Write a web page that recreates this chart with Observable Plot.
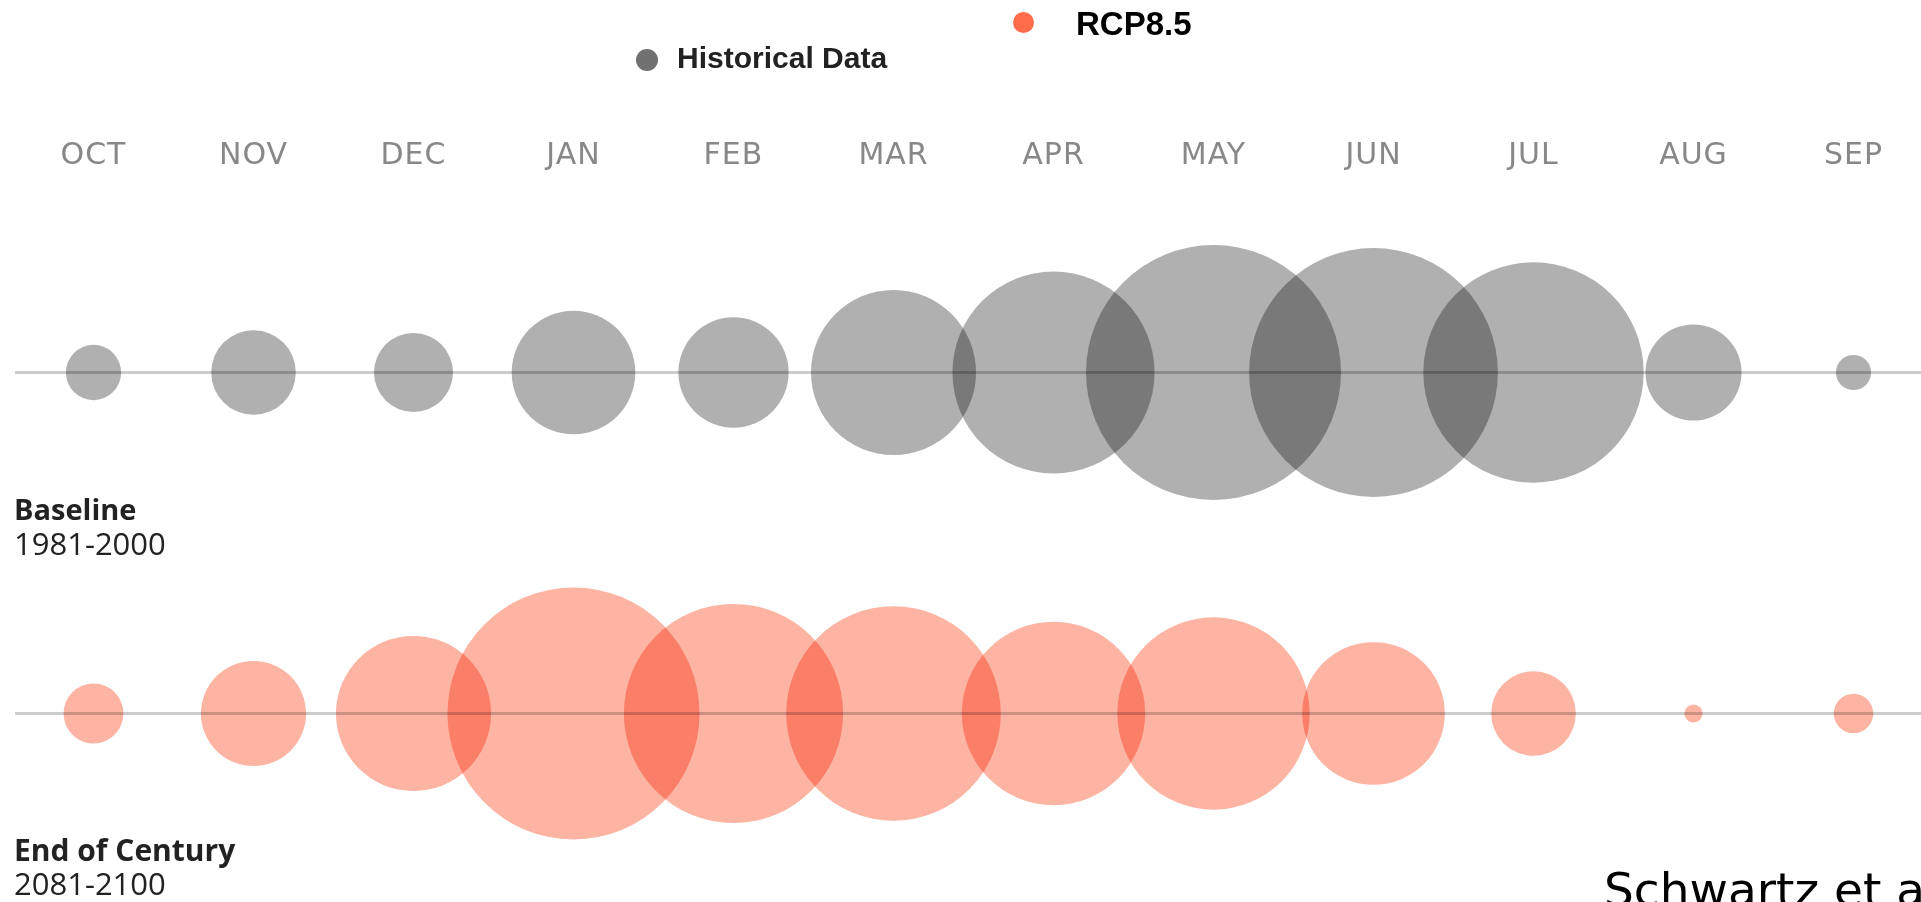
<!DOCTYPE html>
<html>
<head>
<meta charset="utf-8">
<script src="https://cdn.jsdelivr.net/npm/d3@7"></script>
<script src="https://cdn.jsdelivr.net/npm/@observablehq/plot@0.6"></script>
<style>
  html, body { margin: 0; padding: 0; background: #fff; overflow: hidden; }
  #wrap { position: relative; width: 1921px; height: 902px; overflow: hidden; }
  #chart { position: absolute; left: 0; top: 0; }
  #chart svg circle { mix-blend-mode: multiply; }
  #chart svg text { letter-spacing: 1px; }
  .abs { position: absolute; white-space: nowrap; line-height: 1; }
  .dot { position: absolute; border-radius: 50%; }
  .leg { font-family: "Liberation Sans", Arial, sans-serif; font-weight: bold; }
  .row { font-family: "Open Sans", sans-serif; color: #222; }
</style>
</head>
<body>
<div id="wrap">
  <div id="chart"></div>
  <div class="dot" style="left:636px; top:49px; width:22px; height:22px; background:#707070;"></div>
  <div class="abs leg" style="left:677px; top:43px; font-size:30px; color:#222;">Historical Data</div>
  <div class="dot" style="left:1012.5px; top:12px; width:21px; height:21px; background:#ff6c4c;"></div>
  <div class="abs leg" style="left:1076px; top:7px; font-size:33px; color:#000;">RCP8.5</div>
  <div class="abs row" style="left:14px; top:494px; font-size:29px; font-weight:bold;">Baseline</div>
  <div class="abs row" style="left:14px; top:528px; font-size:31px;">1981-2000</div>
  <div class="abs row" style="left:14px; top:834.5px; font-size:30px; font-weight:bold;">End of Century</div>
  <div class="abs row" style="left:14px; top:868px; font-size:31px;">2081-2100</div>
  <div class="abs" style="left:1604px; top:866px; font-size:47px; font-family:'DejaVu Sans', sans-serif; color:#000;">Schwartz et al.</div>
</div>
<script>
// Month categories (water year order)
const months = ["OCT", "NOV", "DEC", "JAN", "FEB", "MAR", "APR", "MAY", "JUN", "JUL", "AUG", "SEP"];
// Series names
const seriesNames = ["Historical Data", "RCP8.5"];
// Baseline 1981-2000 (relative magnitude, estimated from circle areas)
const historical = [4.7, 11.0, 9.6, 23.5, 18.7, 41.9, 62.8, 100.0, 95.2, 74.7, 14.2, 1.9];
// End of century 2081-2100, RCP8.5 (relative magnitude)
const rcp85 = [5.5, 17.0, 37.0, 97.7, 73.9, 70.8, 51.7, 56.9, 31.3, 11.0, 0.5, 2.4];

const data = [
  ...months.map((m, i) => ({month: m, series: seriesNames[0], value: historical[i]})),
  ...months.map((m, i) => ({month: m, series: seriesNames[1], value: rcp85[i]}))
];

const chart = Plot.plot({
  width: 1921,
  height: 902,
  marginLeft: 15,
  marginRight: 0,
  marginTop: 172,
  marginBottom: 0,
  style: {fontFamily: "'DejaVu Sans', sans-serif", fontSize: "30px", color: "#888", background: "transparent"},
  x: {type: "point", domain: months, range: [91.5, 1854], padding: 0},
  y: {type: "point", domain: seriesNames, range: [371.5, 712.5], padding: 0, axis: null},
  r: {type: "sqrt", domain: [0, 100], range: [0, 127.5]},
  color: {domain: seriesNames, range: ["#b0b0b0", "#fdb4a3"]},
  marks: [
    Plot.axisX({anchor: "top", tickSize: 0, tickPadding: 9, label: null, fontSize: 30}),
    Plot.dot(data, {x: "month", y: "series", r: "value", fill: "series", mixBlendMode: "multiply"}),
    Plot.ruleY(seriesNames, {y: d => d, stroke: "#000", strokeOpacity: 0.2, strokeWidth: 3})
  ]
});
document.getElementById("chart").appendChild(chart);
</script>
</body>
</html>
